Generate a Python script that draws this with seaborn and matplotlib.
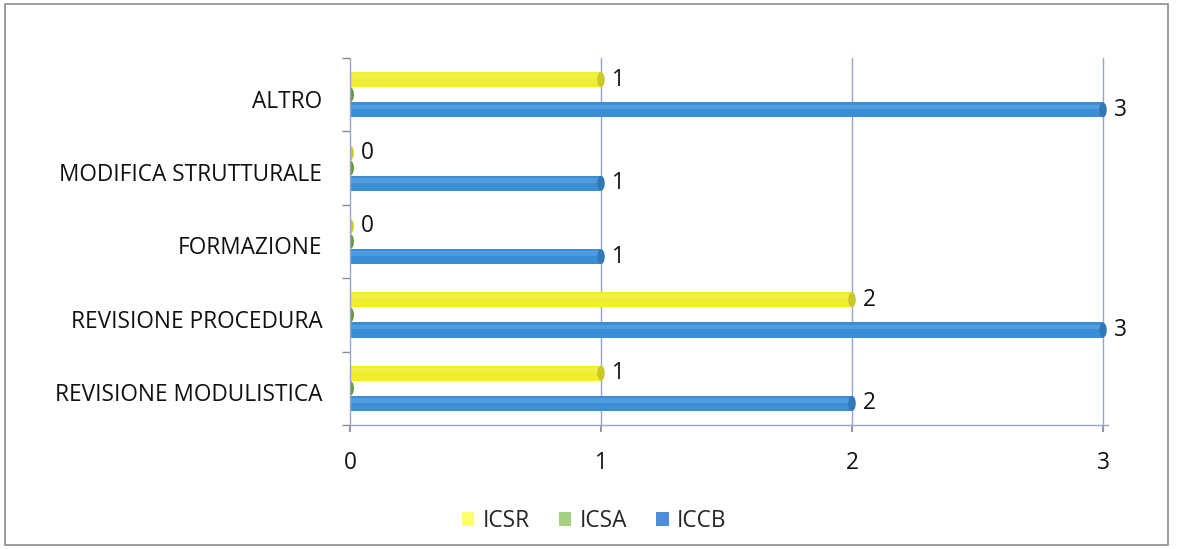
import matplotlib
matplotlib.use("Agg")
import matplotlib.pyplot as plt
import matplotlib.colors as mcolors
from matplotlib.patches import Ellipse, Rectangle
from matplotlib.ticker import FixedLocator
from matplotlib.transforms import ScaledTranslation
import pandas as pd
import seaborn as sns

# Categories (top to bottom) and values per series
categories = ["ALTRO", "MODIFICA STRUTTURALE", "FORMAZIONE",
              "REVISIONE PROCEDURA", "REVISIONE MODULISTICA"]
series_names = ["ICSR", "ICSA", "ICCB"]
icsr = [1, 0, 0, 2, 1]
icsa = [0, 0, 0, 0, 0]
iccb = [3, 1, 1, 3, 2]
x_ticks = [0, 1, 2, 3]

palette = {"ICSR": "#EEEE2C", "ICSA": "#78B048", "ICCB": "#3A8ED6"}
legend_colors = {"ICSR": "#FFFF6E", "ICSA": "#A4D282", "ICCB": "#4E8ED8"}
labelled = {"ICSR", "ICCB"}

df = pd.DataFrame({
    "categoria": categories * 3,
    "serie": [s for s in series_names for _ in categories],
    "valore": icsr + icsa + iccb,
})

sns.set_theme(style="white")
plt.rcParams["font.family"] = ["Open Sans", "DejaVu Sans"]
FS = 16.3

fig = plt.figure(figsize=(11.78, 5.49), dpi=100)
ax = fig.add_axes([350 / 1178, 124 / 549, 758 / 1178, 367 / 549])

sns.barplot(data=df, y="categoria", x="valore", hue="serie",
            order=categories, hue_order=series_names, palette=palette,
            orient="h", width=0.62, gap=0.0, saturation=1,
            linewidth=0, ax=ax, legend=True)

ax.set_xlim(0, 3.02)
ax.set_ylim(4.5, -0.5)

# cylinder look: rounded ends and a soft highlight, derived from each bar
for container, name in zip(ax.containers, series_names):
    base = mcolors.to_rgb(palette[name])
    dark = tuple(c * 0.85 for c in base)
    light = tuple(min(1, c + (1 - c) * 0.25) for c in base)
    for bar in container:
        x0 = bar.get_x()
        w = bar.get_width()
        y0 = bar.get_y()
        h = bar.get_height()
        yc = y0 + h / 2
        ax.add_patch(Rectangle((x0, y0 + h * 0.15), w, h * 0.3,
                               facecolor=light, edgecolor="none",
                               alpha=0.5, zorder=bar.get_zorder() + 0.1))
        ax.add_patch(Ellipse((x0, yc), 0.03, h * 0.98, facecolor=base,
                             edgecolor="none", zorder=bar.get_zorder()))
        ax.add_patch(Ellipse((x0 + w, yc), 0.03, h * 0.98, facecolor=dark,
                             edgecolor="none",
                             zorder=bar.get_zorder() + 0.2))
    if name in labelled:
        ax.bar_label(container, labels=[f"{v:g}" for v in container.datavalues],
                     padding=8, fontsize=FS, color="#111111")

# grid / walls
grid_col = "#93A5CF"
for xv in x_ticks[1:]:
    ax.axvline(xv, color=grid_col, lw=1.0, zorder=0)
for side in ["top", "right"]:
    ax.spines[side].set_visible(False)
for side in ["left", "bottom"]:
    ax.spines[side].set_color("#9AA6C6")
    ax.spines[side].set_linewidth(1.0)

ax.set_xticks(x_ticks)
ax.set_xticklabels([str(v) for v in x_ticks], fontsize=FS, color="#111111")
ax.tick_params(axis="x", which="major", direction="out", length=5,
               color="#8A8A8A", pad=14, bottom=True)
ax.set_yticks(range(len(categories)))
ax.set_yticklabels(categories, fontsize=FS, color="#111111")
ax.tick_params(axis="y", which="major", length=0, pad=20)
ax.yaxis.set_minor_locator(FixedLocator([i - 0.5 for i in range(len(categories) + 1)]))
ax.tick_params(axis="y", which="minor", direction="out", length=6,
               color="#8A8A8A", left=True)
ax.set_xlabel("")
ax.set_ylabel("")
shift = ScaledTranslation(0, -4 / 100, fig.dpi_scale_trans)
for lbl in ax.get_yticklabels():
    lbl.set_transform(lbl.get_transform() + shift)

# legend centred below the plot
leg = ax.get_legend()
handles = leg.legend_handles
for hnd, name in zip(handles, series_names):
    hnd.set_facecolor(legend_colors[name])
    hnd.set_edgecolor("none")
leg.remove()
fig.legend(handles, series_names, loc="center", bbox_to_anchor=(594 / 1178, 1 - 521 / 549),
           ncol=3, frameon=False, fontsize=FS, handlelength=0.55,
           handleheight=0.55, handletextpad=0.35, columnspacing=1.3)

# outer frame of the chart area
fig.patches.append(Rectangle((5 / 1178, 4 / 549), 1163 / 1178, 541 / 549,
                             transform=fig.transFigure, fill=False,
                             edgecolor="#8C8C8C", linewidth=1.2))

fig.savefig("out.png", dpi=100)
